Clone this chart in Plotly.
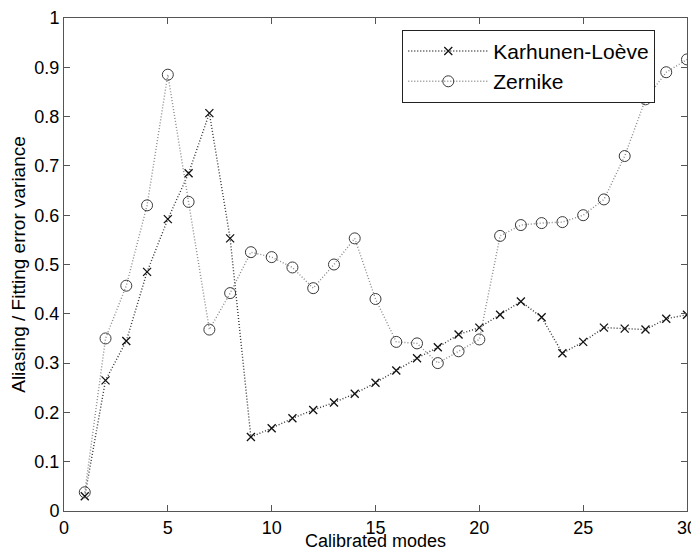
import plotly.graph_objects as go

modes = list(range(1, 31))
kl = [0.030, 0.265, 0.345, 0.485, 0.592, 0.685, 0.807, 0.553, 0.150, 0.168,
      0.188, 0.205, 0.220, 0.238, 0.260, 0.285, 0.310, 0.332, 0.358, 0.372,
      0.398, 0.425, 0.393, 0.320, 0.343, 0.372, 0.370, 0.368, 0.390, 0.398]
zernike = [0.038, 0.350, 0.457, 0.620, 0.885, 0.627, 0.368, 0.442, 0.525, 0.515,
           0.494, 0.452, 0.500, 0.553, 0.430, 0.343, 0.340, 0.300, 0.324, 0.348,
           0.558, 0.580, 0.584, 0.586, 0.600, 0.632, 0.720, 0.835, 0.890, 0.916]
xticks = [0, 5, 10, 15, 20, 25, 30]
yticks = [0, 0.1, 0.2, 0.3, 0.4, 0.5, 0.6, 0.7, 0.8, 0.9, 1]
ytick_text = ["0", "0.1", "0.2", "0.3", "0.4", "0.5", "0.6", "0.7", "0.8", "0.9", "1"]

fig = go.Figure()
fig.add_trace(go.Scatter(
    x=modes, y=kl, name="Karhunen-Loève", mode="lines+markers",
    line=dict(color="#333333", width=1.4, dash="1px,2px"),
    marker=dict(symbol="x-thin-open", size=8, color="#111111",
                line=dict(color="#111111", width=1.3)),
))
fig.add_trace(go.Scatter(
    x=modes, y=zernike, name="Zernike", mode="lines+markers",
    line=dict(color="#8a8a8a", width=1.4, dash="1px,2px"),
    marker=dict(symbol="circle-open", size=11, color="#3a3a3a",
                line=dict(color="#3a3a3a", width=1)),
))

axis_common = dict(
    showgrid=False, zeroline=False, ticks="inside", ticklen=6,
    tickcolor="#555555", showline=True, linecolor="#555555", linewidth=1,
    mirror="ticks", tickfont=dict(size=18, color="black"), automargin=False,
)
# the page body adds an 8px offset, so the figure is 8px smaller than the window
fig.update_layout(
    width=691, height=543,
    margin=dict(l=56, r=12, t=10, b=40),
    paper_bgcolor="white", plot_bgcolor="white",
    font=dict(family="Liberation Sans, Arial, sans-serif", color="black"),
    xaxis=dict(range=[0, 30], tickvals=xticks,
               title=dict(text="Calibrated modes", font=dict(size=18), standoff=3),
               **axis_common),
    yaxis=dict(range=[0, 1], tickvals=yticks, ticktext=ytick_text,
               title=dict(text="Aliasing / Fitting error variance", font=dict(size=19), standoff=6),
               **axis_common),
    legend=dict(x=0.543, y=0.976, xanchor="left", yanchor="top",
                bgcolor="white", bordercolor="#222222", borderwidth=1,
                font=dict(size=21), itemwidth=80, tracegroupgap=0),
    showlegend=True,
)

fig.write_html("out.html")
